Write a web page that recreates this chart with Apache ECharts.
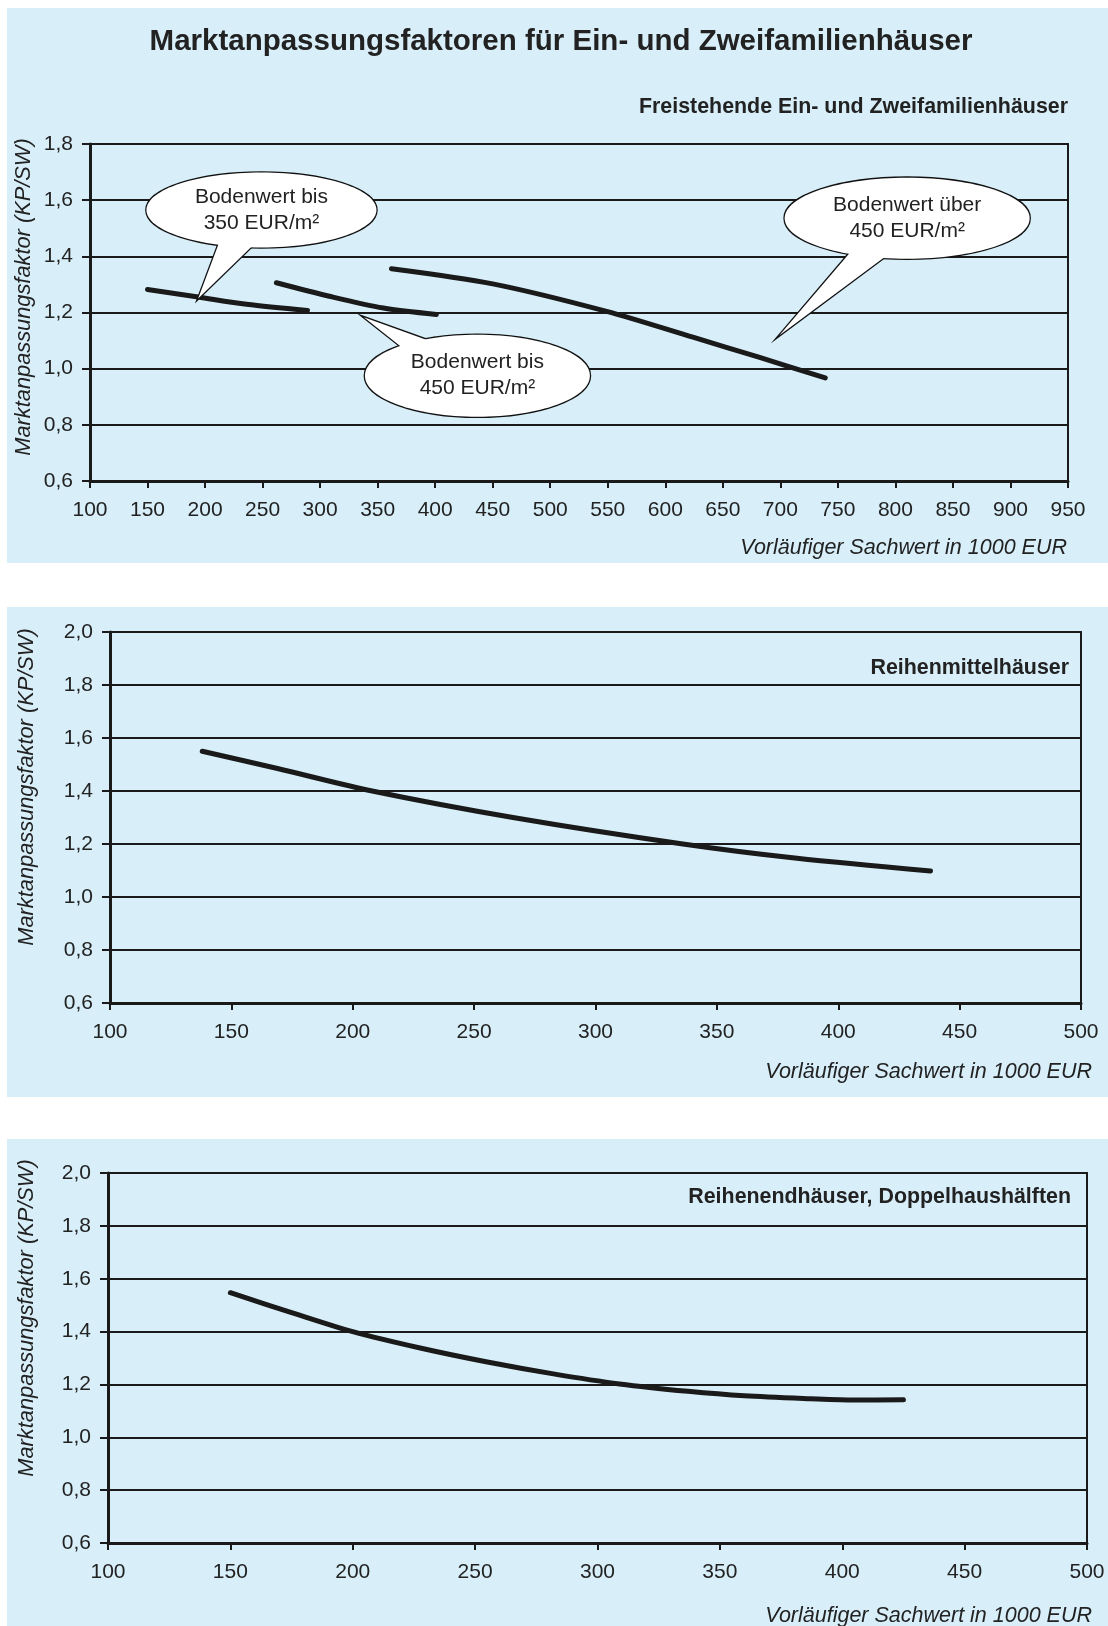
<!DOCTYPE html>
<html>
<head>
<meta charset="utf-8">
<script src="https://cdn.jsdelivr.net/npm/echarts@6/dist/echarts.min.js"></script>
<style>
  html, body { margin: 0; padding: 0; background: #ffffff; }
  #chart { width: 1108px; height: 1626px; }
</style>
</head>
<body>
<div id="chart"></div>
<script>
// ---------------- DATA ----------------
// Panel 1: Freistehende Ein- und Zweifamilienhäuser
const bis350X = [150, 194, 236, 289];
const bis350Y = [1.282, 1.255, 1.229, 1.207];
const bis450X = [262, 308, 355, 401];
const bis450Y = [1.306, 1.258, 1.216, 1.193];
const ueber450X = [362, 450, 549, 624, 682, 739];
const ueber450Y = [1.356, 1.302, 1.204, 1.112, 1.040, 0.967];
// Panel 2: Reihenmittelhäuser
const rmhX = [138, 169, 208, 266, 336, 383, 438];
const rmhY = [1.55, 1.485, 1.40, 1.30, 1.20, 1.146, 1.098];
// Panel 3: Reihenendhäuser, Doppelhaushälften
const rehX = [150, 175, 200, 228, 255, 282, 309, 337, 360, 387, 405, 425];
const rehY = [1.547, 1.472, 1.40, 1.337, 1.285, 1.240, 1.202, 1.174, 1.157, 1.146, 1.141, 1.142];

// Axis ranges
const xRange1 = { min: 100, max: 950, interval: 50 };
const yRange1 = { min: 0.6, max: 1.8, interval: 0.2 };
const xRange23 = { min: 100, max: 500, interval: 50 };
const yRange23 = { min: 0.6, max: 2.0, interval: 0.2 };

// Texts
const mainTitle = 'Marktanpassungsfaktoren für Ein- und Zweifamilienhäuser';
const panelTitles = ['Freistehende Ein- und Zweifamilienhäuser', 'Reihenmittelhäuser', 'Reihenendhäuser, Doppelhaushälften'];
const yName = 'Marktanpassungsfaktor (KP/SW)';
const xName = 'Vorläufiger Sachwert in 1000 EUR';
const calloutTexts = [
  ['Bodenwert bis', '350 EUR/m²'],
  ['Bodenwert bis', '450 EUR/m²'],
  ['Bodenwert über', '450 EUR/m²']
];
// callout anchor (tail tip) and bubble centre in data units of panel 1
const calloutTip = [[194, 1.25], [338, 1.183], [699, 1.118]];
const calloutCenter = [[249, 1.565], [436.7, 0.975], [810.2, 1.536]];

// ---------------- STYLE ----------------
const FONT = '"Liberation Sans", Arial, Helvetica, sans-serif';
const INK = '#1a1a1a';
const TXT = '#222222';
const BG = '#d8effa';
const calloutGeom = [
  { rx: 115, ry: 37.5, base: [[-41, 29], [-4, 31]] },
  { rx: 112.5, ry: 41, base: [[-70, -24], [-40, -32]] },
  { rx: 122.5, ry: 40.5, base: [[-53, 29.5], [-16, 34]] }
];

function zip(xs, ys) { return xs.map((x, i) => [x, ys[i]]); }
const fmt = v => v.toFixed(1).replace('.', ',');

function xAxis(gi, r) {
  return {
    type: 'value', gridIndex: gi, min: r.min, max: r.max, interval: r.interval,
    axisLine: { show: true, onZero: false, lineStyle: { color: INK, width: 3 } },
    axisTick: { show: true, length: 7, lineStyle: { color: INK, width: 2 } },
    axisLabel: { fontSize: 21, color: TXT, fontFamily: FONT, margin: 19, showMinLabel: true, showMaxLabel: true },
    splitLine: { show: false }
  };
}
function yAxis(gi, r) {
  return {
    type: 'value', gridIndex: gi, min: r.min, max: r.max, interval: r.interval,
    axisLine: { show: true, onZero: false, lineStyle: { color: INK, width: 3 } },
    axisTick: { show: true, length: 8, lineStyle: { color: INK, width: 2 } },
    axisLabel: { fontSize: 21, color: TXT, fontFamily: FONT, margin: 17, formatter: fmt, showMinLabel: true, showMaxLabel: true },
    splitLine: { show: true, lineStyle: { color: INK, width: 2 } }
  };
}
function lineSeries(gi, data) {
  return {
    type: 'line', xAxisIndex: gi, yAxisIndex: gi, data: data, smooth: 0.3,
    showSymbol: false, symbol: 'none', silent: true, z: 5,
    lineStyle: { color: INK, width: 5, cap: 'round', join: 'round' }
  };
}
function gridBox(left, top, right, bottom) {
  return { left, top, right, bottom, show: true, borderColor: INK, borderWidth: 2, backgroundColor: 'transparent', containLabel: false };
}
function txt(x, y, text, font, align, rotation) {
  return {
    type: 'text', x: x, y: y, rotation: rotation || 0, z: 20,
    style: { text: text, font: font, fill: TXT, textAlign: align, textVerticalAlign: 'middle', textBaseline: 'middle' }
  };
}

const chart = echarts.init(document.getElementById('chart'), null, { renderer: 'canvas' });

const baseGraphics = [
  { type: 'rect', z: -10, shape: { x: 7, y: 8, width: 1101, height: 555 }, style: { fill: BG } },
  { type: 'rect', z: -10, shape: { x: 7, y: 607, width: 1101, height: 490 }, style: { fill: BG } },
  { type: 'rect', z: -10, shape: { x: 7, y: 1139, width: 1101, height: 487 }, style: { fill: BG } },
  txt(561, 42, mainTitle, 'bold 29.5px ' + FONT, 'center'),
  txt(1068, 107, panelTitles[0], 'bold 21.4px ' + FONT, 'right'),
  txt(1069, 668, panelTitles[1], 'bold 21.4px ' + FONT, 'right'),
  txt(1071, 1197, panelTitles[2], 'bold 21.4px ' + FONT, 'right'),
  txt(24, 297, yName, 'italic 21.8px ' + FONT, 'center', Math.PI / 2),
  txt(27, 787, yName, 'italic 21.8px ' + FONT, 'center', Math.PI / 2),
  txt(27, 1318, yName, 'italic 21.8px ' + FONT, 'center', Math.PI / 2),
  txt(1067, 548, xName, 'italic 21.5px ' + FONT, 'right'),
  txt(1092, 1072, xName, 'italic 21.5px ' + FONT, 'right'),
  txt(1092, 1616, xName, 'italic 21.5px ' + FONT, 'right')
];

chart.setOption({
  animation: false,
  backgroundColor: '#ffffff',
  grid: [gridBox(90, 144, 40, 1145), gridBox(110, 632, 27, 623), gridBox(108, 1173, 21, 83)],
  xAxis: [xAxis(0, xRange1), xAxis(1, xRange23), xAxis(2, xRange23)],
  yAxis: [yAxis(0, yRange1), yAxis(1, yRange23), yAxis(2, yRange23)],
  series: [
    lineSeries(0, zip(bis350X, bis350Y)),
    lineSeries(0, zip(bis450X, bis450Y)),
    lineSeries(0, zip(ueber450X, ueber450Y)),
    lineSeries(1, zip(rmhX, rmhY)),
    lineSeries(2, zip(rehX, rehY))
  ],
  graphic: { elements: baseGraphics }
});

// Callout bubbles, anchored through the panel-1 coordinate system
const callouts = [];
calloutTexts.forEach((lines, i) => {
  const tip = chart.convertToPixel({ gridIndex: 0 }, calloutTip[i]);
  const c = chart.convertToPixel({ gridIndex: 0 }, calloutCenter[i]);
  const g = calloutGeom[i];
  const poly = [tip, [c[0] + g.base[0][0], c[1] + g.base[0][1]], [c[0] + g.base[1][0], c[1] + g.base[1][1]]];
  callouts.push({ type: 'ellipse', z: 30, shape: { cx: c[0], cy: c[1], rx: g.rx, ry: g.ry }, style: { fill: '#ffffff', stroke: '#111', lineWidth: 2.6 } });
  callouts.push({ type: 'polygon', z: 31, shape: { points: poly }, style: { fill: '#ffffff', stroke: '#111', lineWidth: 2.6, lineJoin: 'miter' } });
  callouts.push({ type: 'ellipse', z: 32, shape: { cx: c[0], cy: c[1], rx: g.rx, ry: g.ry }, style: { fill: '#ffffff' } });
  callouts.push({ type: 'polygon', z: 33, shape: { points: poly }, style: { fill: '#ffffff' } });
  callouts.push({ type: 'text', z: 34, x: c[0], y: c[1] - 13, style: { text: lines[0], font: '21px ' + FONT, fill: TXT, textAlign: 'center', textVerticalAlign: 'middle', textBaseline: 'middle' } });
  callouts.push({ type: 'text', z: 34, x: c[0], y: c[1] + 13, style: { text: lines[1], font: '21px ' + FONT, fill: TXT, textAlign: 'center', textVerticalAlign: 'middle', textBaseline: 'middle' } });
});

chart.setOption({ graphic: { elements: baseGraphics.concat(callouts) } });
</script>
</body>
</html>
